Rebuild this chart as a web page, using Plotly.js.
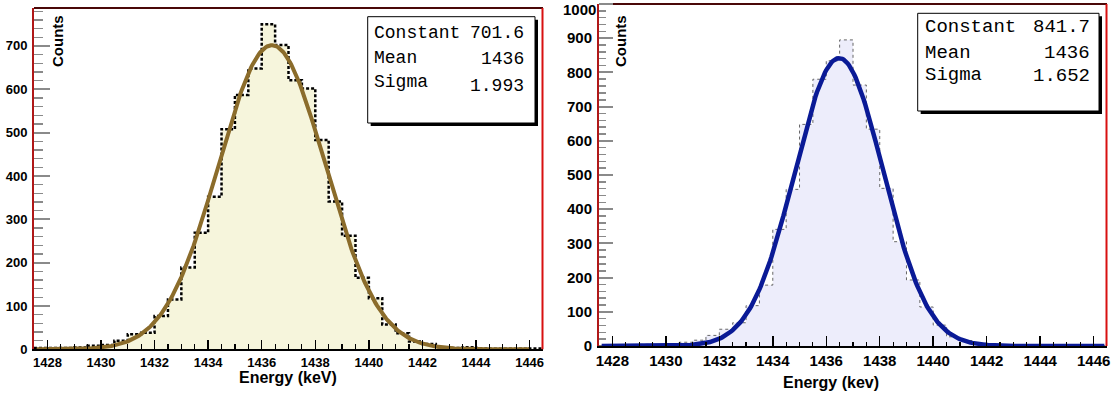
<!DOCTYPE html>
<html><head><meta charset="utf-8">
<script src="https://cdn.plot.ly/plotly-3.0.1.min.js"></script>
<style>html,body{margin:0;padding:0;background:#fff;} #chart{width:1116px;height:396px;}</style>
</head><body><div id="chart"></div>
<script>
// ---- data ----
const binLowEdges = [1427.5,1428,1428.5,1429,1429.5,1430,1430.5,1431,1431.5,1432,1432.5,1433,1433.5,1434,1434.5,1435,1435.5,1436,1436.5,1437,1437.5,1438,1438.5,1439,1439.5,1440,1440.5,1441,1441.5,1442,1442.5,1443,1443.5,1444,1444.5,1445,1445.5,1446];
const binUpperEdge = 1446.5;
const countsLeft = [3,3,3,4,8,10,20,35,38,77,115,189,269,352,508,587,648,750,702,621,602,483,341,262,165,118,57,37,18,12,5,3,5,2,1,1,1,2];
const countsRight = [1,1,1,5,3,3,11,17,31,49,68,118,178,341,458,648,780,834,895,763,634,461,305,193,114,61,27,16,8,5,2,1,1,1,1,1,1,1];
const fitLeft = [701.6, 1436.38, 1.993];   // constant, mean, sigma
const fitRight = [841.7, 1436.48, 1.652];
const statLabels = ['Constant','Mean','Sigma'];
const statValuesLeft = ['701.6','1436','1.993'];
const statValuesRight = ['841.7','1436','1.652'];
const yTickValsLeft = [0,100,200,300,400,500,600,700];
const yTickValsRight = [0,100,200,300,400,500,600,700,800,900];
const yTopLabelRight = '1000';
const xTitleLeft = 'Energy (keV)';
const xTitleRight = 'Energy (kev)';
const yTitle = 'Counts';

// ---- helpers ----
const W = 1116, H = 396;
const px = x => x / W;
const py = y => 1 - y / H;

function stepXY(counts) {
  return { x: binLowEdges.concat([binUpperEdge]), y: counts.concat([counts[counts.length - 1]]) };
}
function gaussCurve(p, x0, x1) {
  const xs = [], ys = [];
  for (let x = x0; x <= x1 + 1e-9; x += 0.05) {
    xs.push(x);
    ys.push(p[0] * Math.exp(-0.5 * Math.pow((x - p[1]) / p[2], 2)));
  }
  return { x: xs, y: ys };
}

const hL = stepXY(countsLeft), hR = stepXY(countsRight);
const cL = gaussCurve(fitLeft, 1427.6, 1446.0);
const cR = gaussCurve(fitRight, 1427.6, 1446.4);

const traces = [
  { x: hL.x, y: hL.y, type: 'scatter', mode: 'lines', line: { shape: 'hv', color: '#000', width: 2.5, dash: '3px,2px' },
    fill: 'tozeroy', fillcolor: '#f6f5dc', xaxis: 'x', yaxis: 'y', hoverinfo: 'skip' },
  { x: cL.x, y: cL.y, type: 'scatter', mode: 'lines', line: { color: '#8b6c2b', width: 4 }, xaxis: 'x', yaxis: 'y', hoverinfo: 'skip' },
  { x: hR.x, y: hR.y, type: 'scatter', mode: 'lines', line: { shape: 'hv', color: '#666', width: 1, dash: 'dot' },
    fill: 'tozeroy', fillcolor: '#ededfb', xaxis: 'x2', yaxis: 'y2', hoverinfo: 'skip' },
  { x: cR.x, y: cR.y, type: 'scatter', mode: 'lines', line: { color: '#0a1a96', width: 4.5 }, xaxis: 'x2', yaxis: 'y2', hoverinfo: 'skip' }
];

const fontFam = 'Liberation Sans, Arial, Helvetica, sans-serif';
const monoFam = 'Courier New, Liberation Mono, DejaVu Sans Mono, monospace';

function xAxis(domain, fs, majLen, minLen) {
  return {
    domain: domain, range: [1427.5, 1446.5], dtick: 2, tick0: 1428,
    ticks: 'inside', ticklen: majLen, tickwidth: 1.5, tickcolor: '#000',
    minor: { dtick: 0.5, ticks: 'inside', ticklen: minLen, tickwidth: 1.2, tickcolor: '#000' },
    showgrid: false, zeroline: false, showline: true, linecolor: '#000', linewidth: 2,
    tickfont: { family: fontFam, size: fs, color: '#000', weight: 'bold' },
    ticklabelstandoff: 0, fixedrange: true
  };
}
function yAxis(domain, range, tv, fs, majLen, minLen) {
  return {
    domain: domain, range: range, tickmode: 'array', tickvals: tv, ticktext: tv.map(String),
    ticks: 'inside', ticklen: majLen, tickwidth: 2, tickcolor: '#8a8a8a',
    minor: { dtick: 20, tick0: 0, ticks: 'inside', ticklen: minLen, tickwidth: 1.5, tickcolor: '#8a8a8a' },
    showgrid: false, zeroline: false, showline: true, linecolor: '#b01818', linewidth: 2,
    tickfont: { family: fontFam, size: fs, color: '#000', weight: 'bold' },
    ticklabelstandoff: 2, fixedrange: true
  };
}

// boxes in pixel coords
const boxL = [367.7, 16.7, 535, 123];
const boxR = [917.7, 13.3, 1099, 111];

function line(x0, y0, x1, y1, color, w) {
  return { type: 'line', xref: 'paper', yref: 'paper', x0: px(x0), y0: py(y0), x1: px(x1), y1: py(y1), line: { color: color, width: w }, layer: 'above' };
}
function box(b) {
  return [
    { type: 'rect', xref: 'paper', yref: 'paper', x0: px(b[0] + 3), y0: py(b[1] + 3), x1: px(b[2] + 3), y1: py(b[3] + 3), fillcolor: '#000', line: { width: 0 }, layer: 'above' },
    { type: 'rect', xref: 'paper', yref: 'paper', x0: px(b[0]), y0: py(b[1]), x1: px(b[2]), y1: py(b[3]), fillcolor: '#fff', line: { color: '#000', width: 1 }, layer: 'above' }
  ];
}

const shapes = [
  line(34, 8, 543, 8, '#4a0808', 2),
  line(542.5, 8, 542.5, 349.3, '#d81010', 2),
  line(599, 4, 1107, 4, '#4a0808', 2),
  line(1106.5, 4, 1106.5, 346, '#d81010', 2),
  line(599, 4, 613, 4, '#8a8a8a', 2)
].concat(box(boxL), box(boxR));

const annotations = [];
function statText(labels, values, xl, xr, ysL, ysV, fs) {
  labels.forEach((t, i) => {
    annotations.push({ xref: 'paper', yref: 'paper', x: px(xl), y: py(ysL[i]), xanchor: 'left', yanchor: 'middle', showarrow: false,
      text: t, font: { family: monoFam, size: fs, color: '#000' } });
    annotations.push({ xref: 'paper', yref: 'paper', x: px(xr), y: py(ysV[i]), xanchor: 'right', yanchor: 'middle', showarrow: false,
      text: values[i], font: { family: monoFam, size: fs, color: '#000' } });
  });
}
statText(statLabels, statValuesLeft, 372, 526, [32.5, 58, 82], [33, 59, 86], 18);
statText(statLabels, statValuesRight, 923, 1092, [26.5, 52.5, 75], [27, 53, 76], 19);

// top tick label of right axis (sits at the very top of the picture)
annotations.push({ xref: 'paper', yref: 'paper', x: px(597), y: py(0), xanchor: 'right', yanchor: 'top', showarrow: false,
  text: yTopLabelRight, font: { family: fontFam, size: 15, color: '#000', weight: 'bold' }, borderpad: 0 });

annotations.push({ xref: 'paper', yref: 'paper', x: px(57), y: py(13), xanchor: 'center', yanchor: 'top', textangle: -90, showarrow: false,
  text: yTitle, font: { family: fontFam, size: 15, color: '#000', weight: 'bold' } });
annotations.push({ xref: 'paper', yref: 'paper', x: px(620), y: py(13), xanchor: 'center', yanchor: 'top', textangle: -90, showarrow: false,
  text: yTitle, font: { family: fontFam, size: 15, color: '#000', weight: 'bold' } });
annotations.push({ xref: 'paper', yref: 'paper', x: px(288), y: py(377), xanchor: 'center', yanchor: 'middle', showarrow: false,
  text: xTitleLeft, font: { family: fontFam, size: 16, color: '#000', weight: 'bold' } });
annotations.push({ xref: 'paper', yref: 'paper', x: px(830.5), y: py(382), xanchor: 'center', yanchor: 'middle', showarrow: false,
  text: xTitleRight, font: { family: fontFam, size: 16, color: '#000', weight: 'bold' } });

const layout = {
  width: W, height: H, margin: { l: 0, r: 0, t: 0, b: 0 },
  paper_bgcolor: '#fff', plot_bgcolor: '#fff', showlegend: false,
  xaxis: xAxis([px(34), px(543)], 13, 9, 5),
  yaxis: yAxis([py(349.3), py(8)], [0, 787.5], yTickValsLeft, 13, 16, 9),
  xaxis2: Object.assign(xAxis([px(599), px(1107)], 15, 10, 4), { anchor: 'y2' }),
  yaxis2: Object.assign(yAxis([py(346), py(4)], [0, 1000], yTickValsRight, 15, 14, 7), { anchor: 'x2' }),
  shapes: shapes, annotations: annotations
};
layout.xaxis.anchor = 'y';
layout.yaxis.anchor = 'x';

Plotly.newPlot('chart', traces, layout, { displayModeBar: false, staticPlot: true });
</script></body></html>
